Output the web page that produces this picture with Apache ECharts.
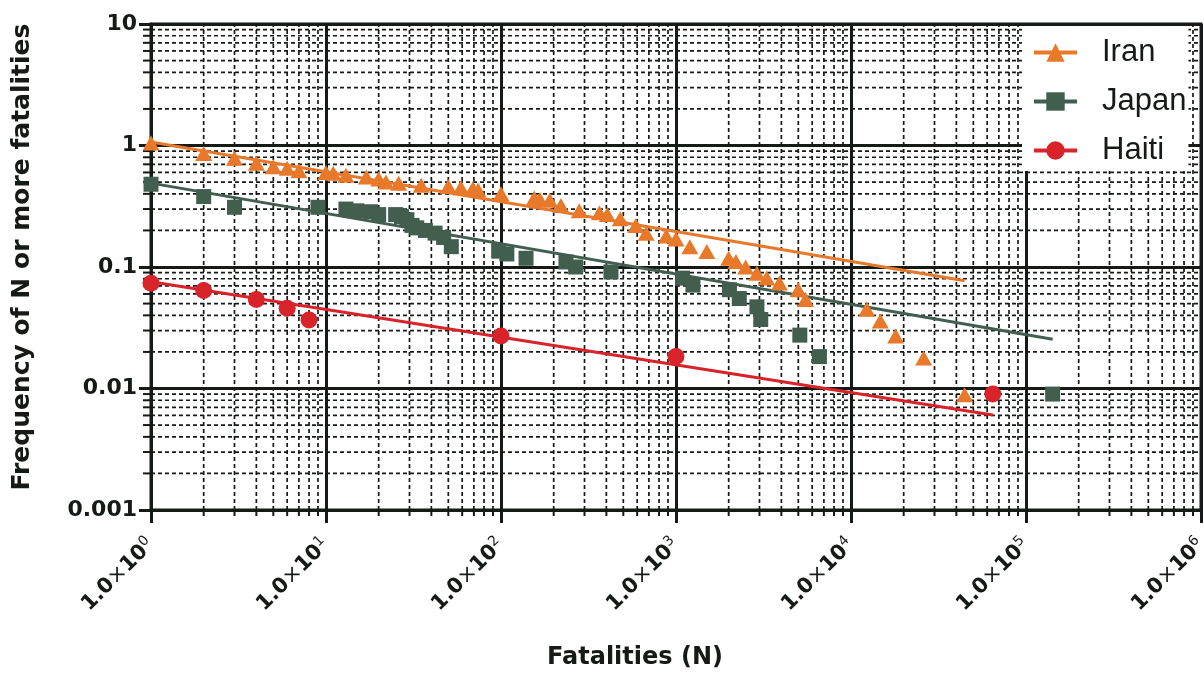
<!DOCTYPE html>
<html><head><meta charset="utf-8">
<script src="https://cdn.jsdelivr.net/npm/echarts@6/dist/echarts.min.js"></script>
<style>html,body{margin:0;padding:0;background:#fff}#c{width:1204px;height:680px}</style>
</head><body><div id="c"></div>
<script>
// ---- data ----
const seriesNames = ['Iran', 'Japan', 'Haiti'];
const iranPoints = [[1,1.05],[2,0.86],[3,0.785],[4,0.713],[5,0.67],[6,0.65],[7,0.62],[10,0.60],[11,0.59],[13,0.57],[17,0.55],[20,0.53],[22,0.50],[26,0.49],[35,0.47],[50,0.46],[59,0.45],[69,0.44],[74,0.43],[100,0.40],[155,0.37],[167,0.36],[190,0.355],[220,0.32],[280,0.29],[365,0.28],[405,0.27],[480,0.25],[590,0.22],[675,0.19],[880,0.18],[1000,0.17],[1200,0.147],[1500,0.134],[2000,0.118],[2200,0.111],[2500,0.10],[2900,0.089],[3300,0.081],[3900,0.074],[5000,0.065],[5500,0.054],[12300,0.045],[14700,0.036],[18000,0.027],[26000,0.0178],[44600,0.0089]];
const japanPoints = [[1,0.48],[2,0.38],[3,0.31],[9,0.31],[13,0.30],[15,0.29],[18,0.285],[20,0.27],[25,0.27],[27,0.26],[29,0.245],[31,0.22],[33,0.21],[37,0.20],[42,0.19],[47,0.175],[52,0.147],[97,0.135],[108,0.128],[139,0.118],[235,0.11],[267,0.10],[425,0.091],[1090,0.081],[1250,0.071],[2020,0.065],[2300,0.055],[2900,0.047],[3050,0.037],[5100,0.0275],[6600,0.0183],[142000,0.009]];
const haitiPoints = [[1,0.0735],[2,0.064],[4,0.054],[6,0.0457],[8,0.0366],[100,0.027],[1000,0.0183],[64600,0.009]];
const iranFit = [[1,1.07],[44600,0.077]];
const japanFit = [[1,0.49],[142000,0.0254]];
const haitiFit = [[1,0.0757],[64600,0.00605]];
const xTickExponents = ['0','1','2','3','4','5','6'];
const yTickLabels = ['0.001','0.01','0.1','1','10'];
const minorMultipliers = [2,3,4,5,6,7,8,9];
const xDecades = [1,10,100,1000,10000,100000];
const yDecades = [0.001,0.01,0.1,1];

// ---- styles ----
const colors = {Iran:'#E8792B', Japan:'#415E4F', Haiti:'#D8232A'};
const ink = '#161a16';
const fontWide = 'DejaVu Sans';

const xMinor = [];
xDecades.forEach(d => minorMultipliers.forEach(m => xMinor.push([d*m, 1])));
const yMinor = [];
yDecades.forEach(d => minorMultipliers.forEach(m => yMinor.push([1, d*m])));

const X_MIN = 1, X_MAX = 1e6, Y_MIN = 0.001, Y_MAX = 10;

function renderXMinor(params, api) {
  const v = api.value(0);
  const b = api.coord([v, Y_MIN]);
  const t = api.coord([v, Y_MAX]);
  return {type:'group', children:[
    {type:'line', shape:{x1:b[0],y1:b[1],x2:t[0],y2:t[1]}, style:{stroke:ink, lineWidth:1.7, lineDash:[4,3]}},
    {type:'line', shape:{x1:b[0],y1:b[1],x2:b[0],y2:b[1]+6}, style:{stroke:ink, lineWidth:2}}
  ]};
}
function renderYMinor(params, api) {
  const v = api.value(1);
  const l = api.coord([X_MIN, v]);
  const r = api.coord([X_MAX, v]);
  return {type:'group', children:[
    {type:'line', shape:{x1:l[0],y1:l[1],x2:r[0],y2:r[1]}, style:{stroke:ink, lineWidth:1.7, lineDash:[4,3]}},
    {type:'line', shape:{x1:l[0]-8,y1:l[1],x2:l[0],y2:l[1]}, style:{stroke:ink, lineWidth:2}}
  ]};
}

const symbols = {Iran:'triangle', Japan:'rect', Haiti:'circle'};
const symbolSizes = {Iran:[17,15], Japan:[15,15], Haiti:17};
const points = {Iran:iranPoints, Japan:japanPoints, Haiti:haitiPoints};
const fits = {Iran:iranFit, Japan:japanFit, Haiti:haitiFit};

const series = [
  {type:'custom', coordinateSystem:'cartesian2d', renderItem:renderXMinor, data:xMinor, silent:true, clip:false, z:1},
  {type:'custom', coordinateSystem:'cartesian2d', renderItem:renderYMinor, data:yMinor, silent:true, clip:false, z:1}
];
seriesNames.forEach(n => {
  series.push({name:n, type:'line', data:fits[n], symbol:symbols[n], showSymbol:false, silent:true,
    color:colors[n], lineStyle:{width:3, color:colors[n]}, z:3});
});
seriesNames.forEach(n => {
  series.push({name:n, type:'scatter', data:points[n], symbol:symbols[n], symbolSize:symbolSizes[n],
    itemStyle:{color:colors[n], opacity:1}, z:4, silent:true});
});

const chart = echarts.init(document.getElementById('c'), null, {renderer:'canvas'});
chart.setOption({
  animation:false,
  backgroundColor:'#fff',
  grid:{left:151, right:3, top:24, bottom:170, show:true, borderColor:ink, borderWidth:3, containLabel:false, outerBoundsMode:'none'},
  legend:{
    data:seriesNames, orient:'vertical', left:1022, top:26,
    padding:[8,2,2,10], itemGap:12, itemWidth:43, itemHeight:23,
    backgroundColor:'#fff',
    lineStyle:{width:4},
    textStyle:{fontFamily:'Liberation Sans', fontSize:31, color:ink, lineHeight:37, padding:[0,0,0,20]}
  },
  xAxis:{
    type:'log', logBase:10, min:X_MIN, max:X_MAX,
    name:'Fatalities (N)', nameLocation:'middle', nameGap:136,
    nameTextStyle:{fontFamily:fontWide, fontWeight:'bold', fontSize:24, color:ink, padding:[0,82,0,0]},
    axisLine:{lineStyle:{color:ink, width:3}},
    axisTick:{length:13, lineStyle:{color:ink, width:3}},
    splitLine:{show:true, lineStyle:{color:ink, width:3}},
    axisLabel:{
      rotate:45, margin:32, color:ink,
      formatter: v => '{a|1.0}{x|×}{a|10}{s|' + xTickExponents[Math.round(Math.log10(v))] + '}',
      rich:{
        a:{fontFamily:fontWide, fontWeight:'bold', fontSize:21, color:ink, lineHeight:25},
        x:{fontFamily:fontWide, fontWeight:'normal', fontSize:21, color:ink, lineHeight:25},
        s:{fontFamily:fontWide, fontWeight:'normal', fontSize:14, color:ink, verticalAlign:'top', lineHeight:14}
      }
    }
  },
  yAxis:{
    type:'log', logBase:10, min:Y_MIN, max:Y_MAX,
    name:'Frequency of N or more fatalities', nameLocation:'middle', nameGap:116,
    nameTextStyle:{fontFamily:fontWide, fontWeight:'bold', fontSize:25, color:ink, padding:[0,0,0,20]},
    axisLine:{lineStyle:{color:ink, width:3}},
    axisTick:{length:12, lineStyle:{color:ink, width:3}},
    splitLine:{show:true, lineStyle:{color:ink, width:3}},
    axisLabel:{
      margin:14, color:ink, fontFamily:fontWide, fontWeight:'bold', fontSize:22,
      formatter: v => yTickLabels[Math.round(Math.log10(v)) + 3]
    }
  },
  series: series
});
</script></body></html>
